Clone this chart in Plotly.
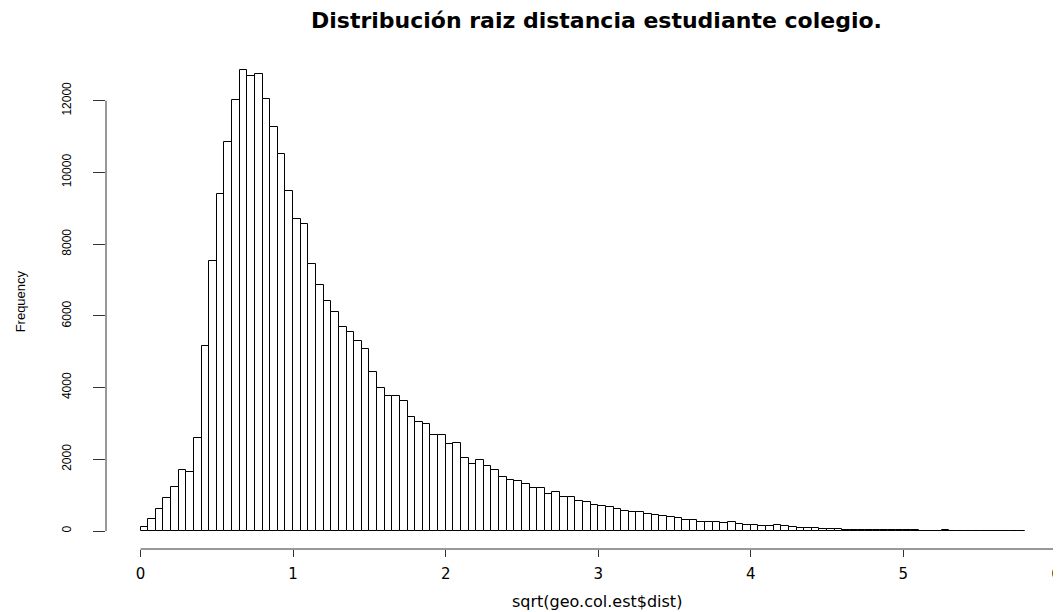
import plotly.graph_objects as go

# Histogram of sqrt(distance): bins of width 0.05 starting at 0
bin_start = 0.0
bin_width = 0.05
counts = [
    120, 345, 622, 920, 1235, 1708, 1652, 2600, 5150, 7517,
    9390, 10850, 12025, 12848, 12700, 12737, 12040, 11256, 10505, 9475,
    8695, 8575, 7443, 6858, 6409,
    6120, 5693, 5545, 5303, 5072, 4431, 3976, 3753, 3763, 3614,
    3179, 3049, 2984, 2667, 2687, 2428, 2444, 2038, 1871, 1982,
    1815, 1704, 1515, 1427, 1403,
    1308, 1197, 1197, 1038, 1085, 946, 946, 835, 807, 724,
    696, 659, 612, 557, 538, 520, 473, 445, 408, 390,
    362, 306, 306,
    260, 241, 241, 213, 241, 195, 167, 167, 130, 130,
    158, 130, 102, 74, 74, 74, 56, 56, 56, 37,
    37, 37, 37,
    28, 25, 22, 20, 17, 15, 12, 10,
    0, 35,
    2, 2, 2, 2, 2, 2, 2, 2, 2, 2,
]
x_ticks = [0, 1, 2, 3, 4, 5, 6]
y_ticks = [0, 2000, 4000, 6000, 8000, 10000, 12000]

title_text = "Distribución raiz distancia estudiante colegio."
x_label = "sqrt(geo.col.est$dist)"
y_label = "Frequency"

centers = [bin_start + bin_width * (i + 0.5) for i in range(len(counts))]

fig = go.Figure()
fig.add_trace(go.Bar(
    x=centers, y=counts, width=bin_width,
    marker=dict(color="white", line=dict(color="black", width=1)),
    hoverinfo="x+y",
))

# page body has an 8px default margin, so the figure is laid out 8px smaller
OFF = 8
W, H = 1061 - OFF, 612 - OFF
ml, mr, mt, mb = 106 - OFF, 0, 52 - OFF, 63
pw, ph = W - ml - mr, H - mt - mb


def px_x(px):
    return (px - OFF - ml) / pw


def px_y(py):
    return ((H - mb) - (py - OFF)) / ph


fig.update_layout(
    width=W, height=H,
    margin=dict(l=ml, r=mr, t=mt, b=mb),
    paper_bgcolor="white", plot_bgcolor="white",
    showlegend=False,
    bargap=0,
    xaxis=dict(
        range=[-0.2265, 6.007],
        tickvals=x_ticks, ticktext=[str(v) for v in x_ticks],
        ticks="outside", ticklen=7, tickcolor="#333", tickwidth=1,
        showgrid=False, zeroline=False, showline=False,
        tickfont=dict(family="DejaVu Sans", size=15, color="black"),
        ticklabelstandoff=4,
        ticklabeloverflow="allow",
    ),
    yaxis=dict(
        range=[-502, 13358],
        tickvals=y_ticks, ticktext=[str(v) for v in y_ticks],
        ticks="outside", ticklen=12, tickcolor="#333", tickwidth=1,
        showgrid=False, zeroline=False, showline=False,
        tickangle=-90,
        tickfont=dict(family="Liberation Sans", size=12, color="black"),
        ticklabelstandoff=17,
    ),
    shapes=[
        dict(type="line", xref="x", yref="paper", x0=x_ticks[0], x1=x_ticks[-1],
             y0=0, y1=0, line=dict(color="#333", width=1)),
        dict(type="line", xref="paper", yref="y", x0=0, x1=0,
             y0=y_ticks[0], y1=y_ticks[-1], line=dict(color="#333", width=1)),
    ],
    annotations=[
        dict(text="<b>" + title_text + "</b>", xref="paper", yref="paper",
             x=px_x(599), y=px_y(21),
             xanchor="center", yanchor="middle", showarrow=False,
             font=dict(family="DejaVu Sans", size=22, color="black")),
        dict(text=x_label, xref="paper", yref="paper",
             x=px_x(599), y=px_y(601),
             xanchor="center", yanchor="middle", showarrow=False,
             font=dict(family="DejaVu Sans", size=16, color="black")),
        dict(text=y_label, xref="paper", yref="paper",
             x=px_x(20), y=px_y(301),
             xanchor="center", yanchor="middle", showarrow=False, textangle=-90,
             font=dict(family="Liberation Sans", size=13, color="black")),
    ],
)

fig.write_html("out.html")
